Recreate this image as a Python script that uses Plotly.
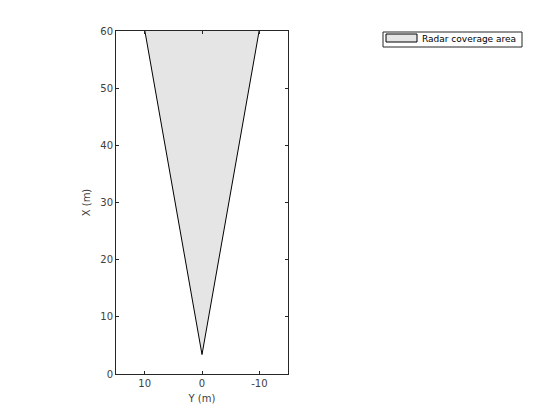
import plotly.graph_objects as go

# Radar coverage polygon vertices (X forward, Y lateral), in metres
cov_x = [3.4, 62.5, 63.0, 63.4, 63.0, 62.5, 3.4]
cov_y = [0.0, 10.4, 5.2, 0.0, -5.2, -10.4, 0.0]

x_ticks = [0, 10, 20, 30, 40, 50, 60]
y_ticks = [10, 0, -10]
legend_label = "Radar coverage area"

OFF = 8  # page body margin offset
W, H = 560, 420
L, R, T, B = 116 - OFF, 272 + OFF, 31 - OFF, 46 + OFF
pw, ph = W - L - R, H - T - B

fig = go.Figure()
fig.add_trace(go.Scatter(
    x=cov_y, y=cov_x, mode="lines", fill="toself",
    fillcolor="#e5e5e5", line=dict(color="black", width=1),
    name=legend_label, showlegend=False, hoverinfo="skip"))

font = dict(family="DejaVu Sans", size=10, color="#404040")
axis_common = dict(showgrid=False, zeroline=False, showline=True, linecolor="#262626",
                   linewidth=1, mirror="ticks", ticks="inside", ticklen=3,
                   tickcolor="#262626", tickfont=font)
fig.update_layout(
    width=W, height=H, margin=dict(l=L, r=R, t=T, b=B),
    paper_bgcolor="white", plot_bgcolor="white", font=font,
    xaxis=dict(range=[15, -15], tickvals=y_ticks, ticktext=[str(v) for v in y_ticks],
               title=dict(text="Y (m)", font=font, standoff=6), **axis_common),
    yaxis=dict(range=[0, 60], tickvals=x_ticks, ticktext=[str(v) for v in x_ticks],
               title=dict(text="X (m)", font=font, standoff=7), **axis_common),
)

# Legend drawn in paper coordinates (reference pixel positions)
def px(x):
    return (x - OFF - L) / pw
def py(y):
    return 1 - (y - OFF - T) / ph

fig.add_shape(type="rect", xref="paper", yref="paper", x0=px(383), x1=px(522),
              y0=py(47), y1=py(32), line=dict(color="#262626", width=1), fillcolor="white")
fig.add_shape(type="rect", xref="paper", yref="paper", x0=px(386), x1=px(417),
              y0=py(42), y1=py(34), line=dict(color="black", width=1), fillcolor="#e5e5e5")
fig.add_annotation(xref="paper", yref="paper", x=px(420), y=py(39.5), xanchor="left",
                   yanchor="middle", text=legend_label, showarrow=False,
                   font=dict(family="DejaVu Sans", size=9, color="black"))

fig.write_html("out.html")
